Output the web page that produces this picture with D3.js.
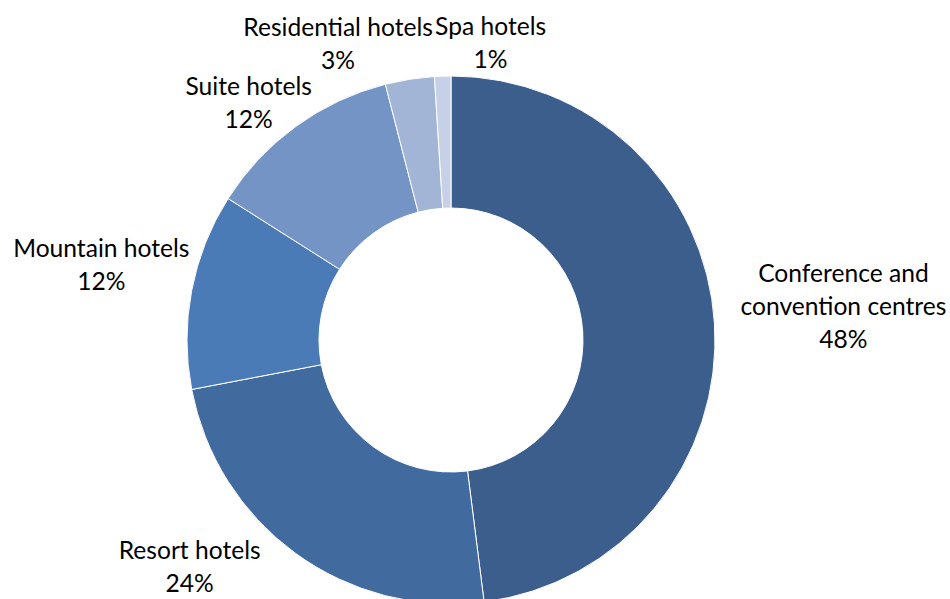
<!DOCTYPE html>
<html>
<head>
<meta charset="utf-8">
<script src="https://cdn.jsdelivr.net/npm/d3@7/dist/d3.min.js"></script>
<style>
  body { margin: 0; background: #fff; }
  svg text { font-family: Lato, "Open Sans", sans-serif; fill: #000; }
</style>
</head>
<body>
<div id="chart"></div>
<script>
// Chart data
var categories = ['Conference and convention centres', 'Resort hotels', 'Mountain hotels', 'Suite hotels', 'Residential hotels', 'Spa hotels'];
var values = [48, 24, 12, 12, 3, 1];
var labelLines = [['Conference and', 'convention centres'], ['Resort hotels'], ['Mountain hotels'], ['Suite hotels'], ['Residential hotels'], ['Spa hotels']];
var colors = ['#3b5e8c', '#416b9f', '#4a7bb7', '#7494c5', '#a3b5d7', '#c6d0e6'];

// Label nudges from the arc's outer centroid (Excel-style placement)
var labelNudge = [[93, -15], [-85, -16], [-55, -19], [-26, 6], [-66, 0], [49, 3]];

var chart = {
  width: 950,
  height: 599,
  cx: 451,
  cy: 340,
  outer: 264,
  inner: 132,
  labelRadius: 300,
  lineHeight: 33,
  fontSize: 24.6
};

var svg = d3.select('#chart')
  .append('svg')
    .attr('width', chart.width)
    .attr('height', chart.height);

var slices = categories.map(function(c, i){
  return { name: c, value: values[i], lines: labelLines[i], color: colors[i], nudge: labelNudge[i] };
});

var pie = d3.pie()
  .sort(null)
  .value(function(d){ return d.value; });

var arc = d3.arc()
  .innerRadius(chart.inner)
  .outerRadius(chart.outer);

var labelArc = d3.arc()
  .innerRadius(chart.labelRadius)
  .outerRadius(chart.labelRadius);

var g = svg.append('g')
  .attr('transform', 'translate(' + chart.cx + ',' + chart.cy + ')');

var arcs = pie(slices);

g.selectAll('.slice').data(arcs).enter().append('path')
  .attr('class', 'slice')
  .attr('d', arc)
  .attr('fill', function(d){ return d.data.color; })
  .attr('stroke', '#fff')
  .attr('stroke-width', 1);

//Labels: name lines plus a percent line, block centred on nudged centroid
var labels = g.selectAll('.label').data(arcs).enter().append('text')
  .attr('class', 'label')
  .attr('text-anchor', 'middle')
  .style('font-size', chart.fontSize + 'px');

labels.each(function(d){
  var c = labelArc.centroid(d);
  var x = c[0] + d.data.nudge[0];
  var y = c[1] + d.data.nudge[1];
  var lines = d.data.lines.concat([d.data.value + '%']);
  var top = y - (lines.length - 1) * chart.lineHeight / 2;
  var t = d3.select(this);
  lines.forEach(function(line, i){
    t.append('tspan')
      .attr('x', x)
      .attr('y', top + i * chart.lineHeight + 8.5)
      .text(line);
  });
});
</script>
</body>
</html>
